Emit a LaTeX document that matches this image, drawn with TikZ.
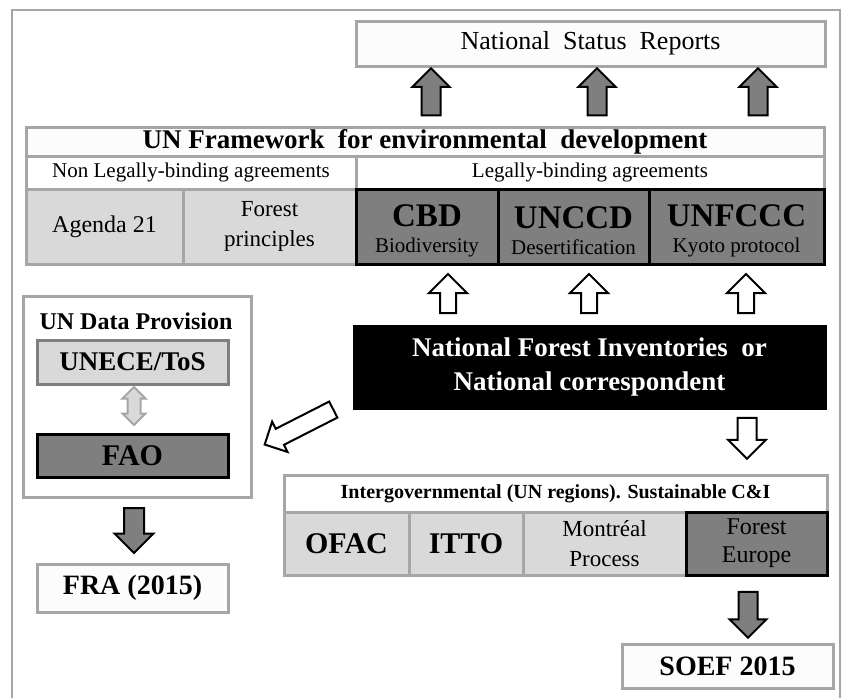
\documentclass[tikz,border=0pt]{standalone}
\usepackage{fontspec}
\setmainfont{Liberation Serif}
\usetikzlibrary{shapes.arrows}
\definecolor{lg}{HTML}{D9D9D9}
\definecolor{dg}{HTML}{7F7F7F}
\definecolor{bg}{HTML}{A6A6A6}
\definecolor{wf}{HTML}{FCFCFC}
\newcommand\myfs[2]{\fontsize{#1}{#2}\selectfont}
\begin{document}
\begin{tikzpicture}[x=1pt,y=-1pt,
  cell/.style={draw=bg, line width=3pt, inner sep=0pt, outer sep=0pt, anchor=north west, align=center},
  blk/.style={cell, draw=black},
  celltext/.style={inner sep=0pt, align=center, font=\myfs{21}{26}},
  barrow/.style={single arrow, draw=black, line width=2pt, inner xsep=0pt, outer sep=0pt},
  garrow/.style={barrow, fill=dg, minimum height=47pt, minimum width=35pt, single arrow head extend=9pt, inner ysep=8.5pt},
  warrow/.style={barrow, fill=white, minimum height=39pt, minimum width=36pt, single arrow head extend=11pt, inner ysep=7pt},
]
\useasboundingbox (0,0) rectangle (842,697);
\fill[white] (0,0) rectangle (842,697);
% outer frame
\draw[bg, line width=2.5pt] (12,700) -- (12,10) -- (840,10) -- (840,700);

% National status reports
\node[cell, fill=wf, minimum width=469pt, minimum height=45pt, font=\myfs{26}{30}] (nsr) at (356,21) {National\ \ Status\ \ Reports};

% UN framework
\node[cell, fill=wf, minimum width=798pt, minimum height=29pt, font=\myfs{27}{32}\bfseries] (unfw) at (26,127) {UN Framework\ \ for environmental\ \ development};
\node[cell, fill=white, minimum width=330pt, minimum height=33pt, font=\myfs{21}{25}] (nonlb) at (26,156) {Non Legally-binding agreements};
\node[cell, fill=white, minimum width=468pt, minimum height=33pt, font=\myfs{21}{25}] (lb) at (356,156) {Legally-binding agreements};
\node[cell, fill=lg, minimum width=157pt, minimum height=75pt, font=\myfs{24}{30}] (ag21) at (26,189) {Agenda 21};
\node[cell, fill=lg, minimum width=173pt, minimum height=75pt, font=\myfs{23}{30}] (fp) at (183,189) {Forest\\principles};
\node[blk, fill=dg, minimum width=142pt, minimum height=75pt] (cbd) at (356,189) {};
\node[blk, fill=dg, minimum width=151pt, minimum height=75pt] (unccd) at (498,189) {};
\node[blk, fill=dg, minimum width=175pt, minimum height=75pt] (unfccc) at (649,189) {};
\node[celltext, yshift=-4pt] (cbdt) at (cbd.center) {{\bfseries\myfs{33}{27}CBD}\\Biodiversity};
\node[celltext, yshift=-4pt] (unccdt) at (unccd.center) {{\bfseries\myfs{33}{27}UNCCD}\\Desertification};
\node[celltext, yshift=-4pt] (unfccct) at (unfccc.center) {{\bfseries\myfs{33}{27}UNFCCC}\\Kyoto protocol};

% up arrows to national status reports
\node[garrow, rotate=90] (ga1) at (431,96.5) {};
\node[garrow, rotate=90] (ga2) at (597,96.5) {};
\node[garrow, rotate=90] (ga3) at (758,96.5) {};

% NFI
\node[blk, fill=black, text=white, minimum width=471pt, minimum height=82pt, font=\myfs{27}{34}\bfseries] (nfi) at (354,326) {National Forest Inventories\ \ or\\National correspondent};

% white up arrows
\node[warrow, rotate=90] (wa1) at (448,297.5) {};
\node[warrow, rotate=90] (wa2) at (589,297.5) {};
\node[warrow, rotate=90] (wa3) at (746,297.5) {};

% white down arrow
\node[barrow, fill=white, minimum height=41pt, minimum width=36pt, single arrow head extend=9.5pt, inner ysep=8.5pt, rotate=-90] (wd) at (747,433.5) {};
% diagonal arrow
\node[barrow, fill=white, minimum height=77pt, minimum width=32pt, single arrow head extend=8pt, inner ysep=8pt, rotate=207] (wdiag) at (303,425) {};

% UN data provision
\node[cell, fill=white, minimum width=228pt, minimum height=201pt] (undp) at (23,296) {};
\node[font=\myfs{24}{28}\bfseries, inner sep=0pt] (undpt) at (136,321) {UN Data Provision};
\node[cell, draw=dg, fill=lg, minimum width=191pt, minimum height=44pt, font=\myfs{27}{30}\bfseries] (unece) at (37,340) {UNECE/ToS};
\node[double arrow, draw=bg, fill=lg, line width=2pt, inner xsep=0pt, inner ysep=5.5pt, minimum height=38pt, minimum width=21pt, double arrow head extend=5pt, rotate=90] (dbl) at (134,406) {};
\node[blk, fill=dg, minimum width=191pt, minimum height=43pt, font=\myfs{30}{34}\bfseries] (fao) at (37,434) {FAO};
\node[barrow, fill=dg, minimum height=45pt, minimum width=37pt, single arrow head extend=9.5pt, inner ysep=9pt, rotate=-90] (gd1) at (134,525.5) {};
\node[cell, fill=wf, minimum width=191pt, minimum height=48pt, font=\myfs{28}{32}\bfseries] (fra) at (37,564) {FRA (2015)};

% intergovernmental
\node[cell, fill=white, minimum width=543pt, minimum height=37pt, font=\myfs{20}{24}\bfseries] (ig) at (284,475) {Intergovernmental (UN regions). Sustainable C\&I};
\node[cell, fill=lg, minimum width=125pt, minimum height=63pt, font=\myfs{30}{34}\bfseries] (ofac) at (284,512) {OFAC};
\node[cell, fill=lg, minimum width=114pt, minimum height=63pt, font=\myfs{30}{34}\bfseries] (itto) at (409,512) {ITTO};
\node[cell, fill=lg, minimum width=163pt, minimum height=63pt, font=\myfs{23}{30}] (mp) at (523,512) {Montréal\\Process};
\node[blk, fill=dg, minimum width=141pt, minimum height=63pt, font=\myfs{24}{28}] (fe) at (686,512) {Forest\\Europe};
\node[barrow, fill=dg, minimum height=46pt, minimum width=35pt, single arrow head extend=9pt, inner ysep=8.5pt, rotate=-90] (gd2) at (748,610) {};
\node[cell, fill=wf, minimum width=211pt, minimum height=44pt, font=\myfs{28}{32}\bfseries] (soef) at (622,644) {SOEF 2015};
\end{tikzpicture}
\end{document}
